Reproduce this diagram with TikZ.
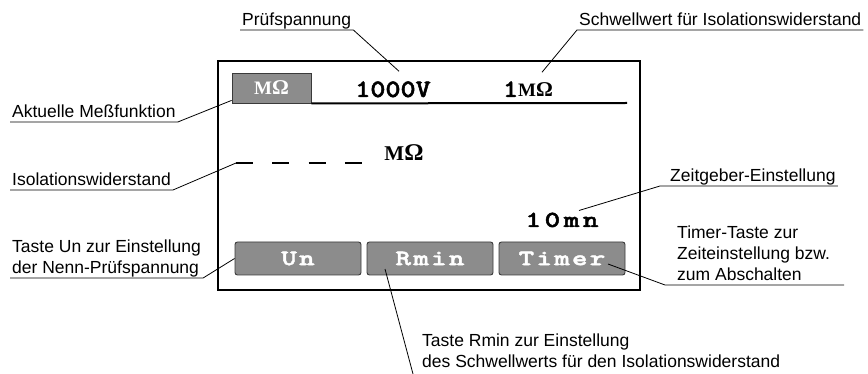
\documentclass[tikz,border=0pt]{standalone}
\usepackage{fontspec}
\setmainfont{Liberation Sans}
\newfontfamily\lcdfont{lmmonolt10-bold}[Extension=.otf, FakeBold=2]
\newfontfamily\ohmfont{Liberation Serif}
\usepackage{xcolor}
\definecolor{KeyFill}{HTML}{8C8C8C}
\definecolor{KeyEdge}{HTML}{3A3A3A}

% M und Omega in zwei Groessen
\newcommand{\MOhm}[2]{{\ohmfont\bfseries\fontsize{#1}{#1}\selectfont M\fontsize{#2}{#2}\selectfont Ω}}

\begin{document}
\begin{tikzpicture}[x=1pt, y=-1pt,
  callout/.style={font=\fontsize{17.5}{21}\selectfont, align=left, inner xsep=2pt, inner ysep=4pt, text depth=0pt, anchor=south west},
  leader/.style={line width=0.8pt},
  keybox/.style={draw=KeyEdge, fill=KeyFill, line width=0.9pt, rounded corners=2.5pt, minimum width=126pt, minimum height=33pt, inner sep=0pt, text=white, font=\lcdfont\fontsize{22}{22}\selectfont\addfontfeatures{FakeStretch=1.35,LetterSpace=10}},
  value/.style={inner sep=0pt, anchor=base, font=\lcdfont\fontsize{25}{25}\selectfont\addfontfeatures{FakeStretch=1.15}}]

  \useasboundingbox (0,0) rectangle (868,374);

  % Anzeigerahmen
  \draw[line width=2.5pt] (218,61) rectangle (640,290);

  % Kopfzeile
  \node[draw=KeyEdge, fill=KeyFill, line width=0.8pt, minimum width=79pt, minimum height=30pt, inner sep=0pt, text=white] (modeBox) at (271.5,88) {\MOhm{19}{21}};
  \coordinate (headEnd) at (627,103);
  \draw[line width=2pt] (modeBox.south east) -- (headEnd);
  \node[value] (voltVal) at (393,97) {1000V};
  \node[inner sep=0pt, anchor=base] (threshVal) at (528,97) {{\lcdfont\fontsize{25}{25}\selectfont\addfontfeatures{FakeStretch=1.15}1}\MOhm{19}{21}};

  % Messwert
  \coordinate (dashStart) at (236,163);
  \foreach \n in {0,1,2,3}
    \draw[line width=1.2pt] (236+36.3*\n,163) -- ++(17,0);
  \node[inner sep=0pt, anchor=base] (unitVal) at (404,161) {\MOhm{21}{24}};
  \node[value, font=\lcdfont\fontsize{23}{23}\selectfont\addfontfeatures{FakeStretch=1.3,LetterSpace=15}] (timeVal) at (562,227) {10mn};

  % Tasten
  \node[keybox] (unKey) at (298,258.5) {Un};
  \node[keybox] (rminKey) at (430,258.5) {Rmin};
  \node[keybox] (timerKey) at (562,258.5) {Timer};

  % Beschriftungen oben
  \node[callout] (pruefLbl) at (240,30) {Prüfspannung};
  \draw[leader] (pruefLbl.south west) -- (pruefLbl.south east) -- ([xshift=6pt,yshift=10pt]voltVal.north);
  \node[callout] (schwLbl) at (577,30) {Schwellwert für Isolationswiderstand};
  \draw[leader] (schwLbl.south east) -- (schwLbl.south west) -- ([xshift=14pt,yshift=9pt]threshVal.north);

  % Beschriftungen links
  \node[callout] (funkLbl) at (10,122) {Aktuelle Meßfunktion};
  \draw[leader] (funkLbl.south west) -- (funkLbl.south east) -- ([yshift=3pt]modeBox.south west);
  \node[callout] (isoLbl) at (10,190) {Isolationswiderstand};
  \draw[leader] (isoLbl.south west) -- (isoLbl.south east) -- (dashStart);
  \node[callout] (unLbl) at (10,278) {Taste Un zur Einstellung\\der Nenn-Prüfspannung};
  \draw[leader] (unLbl.south west) -- (unLbl.south east) -- (unKey.west);

  % Beschriftungen rechts
  \node[callout] (zeitLbl) at (668,186) {Zeitgeber-Einstellung};
  \draw[leader] (zeitLbl.south east) -- ([xshift=-8pt]zeitLbl.south west) -- ([xshift=17pt,yshift=2pt]timeVal.north);
  \node[callout] (timerLbl) at (675,285) {Timer-Taste zur\\Zeiteinstellung bzw.\\zum Abschalten};
  \draw[leader] ([xshift=12pt]timerLbl.south east) -- ([xshift=-10pt]timerLbl.south west) -- ([xshift=46pt,yshift=-5.5pt]timerKey.center);

  % Beschriftung unten
  \node[callout] (rminLbl) at (420,372) {Taste Rmin zur Einstellung\\des Schwellwerts für den Isolationswiderstand};
  \coordinate (rminEnd) at (413,374);
  \draw[leader] ([xshift=-45pt,yshift=-10.5pt]rminKey.center) -- (rminEnd);

\end{tikzpicture}
\end{document}
